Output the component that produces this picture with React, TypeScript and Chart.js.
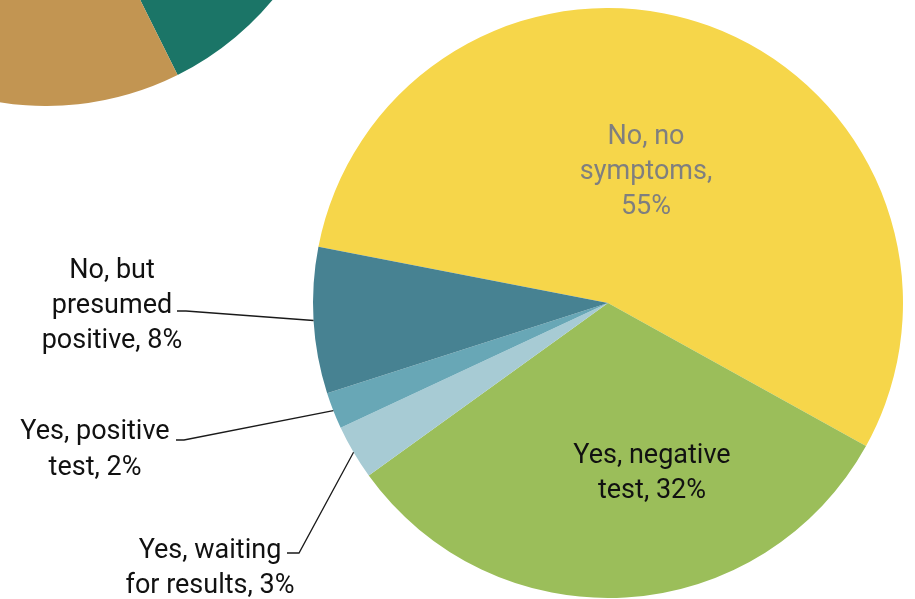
import React, { useEffect, useRef } from "react";
import { Chart, registerables } from "chart.js";

Chart.register(...registerables);

// Main pie: "Have you been tested?" style breakdown
const categories = [
  "No, no symptoms",
  "Yes, negative test",
  "Yes, waiting for results",
  "Yes, positive test",
  "No, but presumed positive",
];
const values = [55, 32, 3, 2, 8];
const colors = ["#F6D64A", "#9BBE5A", "#A7CBD4", "#68A7B6", "#478292"];
const labelLines = [
  ["No, no", "symptoms,", "55%"],
  ["Yes, negative", "test, 32%"],
  ["Yes, waiting", "for results, 3%"],
  ["Yes, positive", "test, 2%"],
  ["No, but", "presumed", "positive, 8%"],
];

// Second (cropped) pie at top-left, only two slices are visible
const otherCategories = ["Teal group", "Tan group", "Other"];
const otherValues = [30, 45, 25];
const otherColors = ["#1B7567", "#C29552", "#8E8E8E"];

const FONT = '27px Roboto, "Noto Sans", sans-serif';

// label layout (positions only, not data)
const labelLayout = [
  { x: 646, baselines: [144, 179, 214], color: "#7F7F7F" },
  { x: 652, baselines: [463, 498], color: "#111111" },
  { x: 210, baselines: [558, 593], color: "#111111", elbow: [299, 553], end: [287, 553] },
  { x: 95, baselines: [439, 475], color: "#111111", elbow: [184, 440], end: [176, 440] },
  { x: 112, baselines: [278, 313, 348], color: "#111111", elbow: [186, 311], end: [177, 311] },
];

const labelPlugin = {
  id: "pieLabels",
  afterDraw(chart: any) {
    const ctx = chart.ctx;
    const meta = chart.getDatasetMeta(0);
    ctx.save();
    meta.data.forEach((arc: any, i: number) => {
      const lay = labelLayout[i];
      if (!lay) return;
      const p = arc.getProps(["x", "y", "startAngle", "endAngle", "outerRadius"], true);
      if (lay.elbow) {
        const mid = (p.startAngle + p.endAngle) / 2;
        const sx = p.x + Math.cos(mid) * p.outerRadius;
        const sy = p.y + Math.sin(mid) * p.outerRadius;
        ctx.beginPath();
        ctx.strokeStyle = "#1a1a1a";
        ctx.lineWidth = 1.3;
        ctx.moveTo(sx, sy);
        ctx.lineTo(lay.elbow[0], lay.elbow[1]);
        ctx.lineTo(lay.end[0], lay.end[1]);
        ctx.stroke();
      }
      ctx.font = FONT;
      ctx.fillStyle = lay.color;
      ctx.textAlign = "center";
      ctx.textBaseline = "alphabetic";
      labelLines[i].forEach((t, j) => {
        ctx.fillText(t, lay.x, lay.baselines[j]);
      });
    });
    ctx.restore();
  },
};

export default function App() {
  const mainRef = useRef<HTMLCanvasElement>(null);
  const otherRef = useRef<HTMLCanvasElement>(null);

  useEffect(() => {
    const main = new Chart(mainRef.current as HTMLCanvasElement, {
      type: "pie",
      data: {
        labels: categories,
        datasets: [
          {
            data: values,
            backgroundColor: colors,
            borderWidth: 0,
          },
        ],
      },
      options: {
        responsive: false,
        animation: false,
        events: [],
        rotation: 281,
        layout: { padding: { left: 313, right: 12, top: 8, bottom: 1 } },
        plugins: { legend: { display: false }, tooltip: { enabled: false } },
      },
      plugins: [labelPlugin],
    });

    const other = new Chart(otherRef.current as HTMLCanvasElement, {
      type: "pie",
      data: {
        labels: otherCategories,
        datasets: [
          {
            data: otherValues,
            backgroundColor: otherColors,
            borderWidth: 0,
          },
        ],
      },
      options: {
        responsive: false,
        animation: false,
        events: [],
        rotation: 45.5,
        layout: { padding: 0 },
        plugins: { legend: { display: false }, tooltip: { enabled: false } },
      },
    });

    let alive = true;
    if ((document as any).fonts && (document as any).fonts.load) {
      (document as any).fonts.load(FONT).then(() => {
        if (alive) main.update();
      });
    }

    return () => {
      alive = false;
      main.destroy();
      other.destroy();
    };
  }, []);

  return (
    <div
      style={{
        position: "fixed",
        left: 0,
        top: 0,
        width: 915,
        height: 599,
        overflow: "hidden",
        background: "#ffffff",
      }}
    >
      <canvas
        ref={otherRef}
        width={590}
        height={590}
        style={{ position: "absolute", left: -249, top: -484, width: 590, height: 590 }}
      />
      <canvas
        ref={mainRef}
        width={915}
        height={599}
        style={{ position: "absolute", left: 0, top: 0, width: 915, height: 599 }}
      />
    </div>
  );
}
